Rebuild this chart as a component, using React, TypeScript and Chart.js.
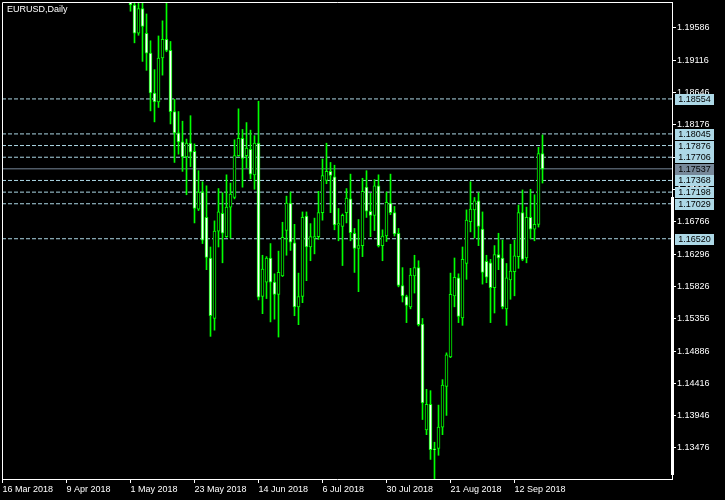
import React, { useEffect, useRef } from 'react';
import { Chart, registerables } from 'chart.js';

Chart.register(...registerables);

const symbolTitle = 'EURUSD,Daily';

const opens = [
  1.2305, 1.2288, 1.2335, 1.2240, 1.2340, 1.2300, 1.2351, 1.2450, 1.2405, 1.2310,
  1.2318, 1.2322, 1.2302, 1.2268, 1.2277, 1.2237, 1.2281, 1.2320, 1.2355, 1.2369,
  1.2326, 1.2330, 1.2382, 1.2372, 1.2375, 1.2345, 1.2288, 1.2211, 1.2234, 1.2166,
  1.2104, 1.2130, 1.2077, 1.1992, 1.1951, 1.1987, 1.1951, 1.1922, 1.1864, 1.1851,
  1.1915, 1.1942, 1.1926, 1.1837, 1.1806, 1.1793, 1.1771, 1.1791, 1.1779, 1.1695,
  1.1720, 1.1683, 1.1624, 1.1536, 1.1663, 1.1689, 1.1655, 1.1698, 1.1712, 1.1773,
  1.1798, 1.1773, 1.1782, 1.1745, 1.1791, 1.1568, 1.1589, 1.1624, 1.1589, 1.1571,
  1.1598, 1.1664, 1.1704, 1.1646, 1.1553, 1.1568, 1.1685, 1.1640, 1.1653, 1.1655,
  1.1690, 1.1737, 1.1750, 1.1742, 1.1672, 1.1670, 1.1690, 1.1710, 1.1660, 1.1638,
  1.1642, 1.1727, 1.1692, 1.1686, 1.1729, 1.1642, 1.1656, 1.1704, 1.1690, 1.1660,
  1.1584, 1.1568, 1.1553, 1.1598, 1.1610, 1.1528, 1.1374, 1.1411, 1.1346, 1.1347,
  1.1378, 1.1437, 1.1480, 1.1569, 1.1595, 1.1537, 1.1616, 1.1677, 1.1694, 1.1707,
  1.1666, 1.1619, 1.1617, 1.1581, 1.1629, 1.1624, 1.1550, 1.1592, 1.1604, 1.1626,
  1.1690, 1.1624, 1.1683, 1.1666, 1.1673, 1.1776,
];

const highs = [
  1.2336, 1.2355, 1.2344, 1.2350, 1.2389, 1.2370, 1.2476, 1.2476, 1.2413, 1.2336,
  1.2335, 1.2346, 1.2320, 1.2321, 1.2292, 1.2300, 1.2340, 1.2367, 1.2396, 1.2376,
  1.2345, 1.2396, 1.2414, 1.2395, 1.2396, 1.2354, 1.2292, 1.2255, 1.2240, 1.2207,
  1.2130, 1.2137, 1.2084, 1.2009, 1.2011, 1.1995, 1.1979, 1.1940, 1.1898, 1.1947,
  1.1969, 1.1995, 1.1939, 1.1855, 1.1837, 1.1823, 1.1797, 1.1831, 1.1790, 1.1751,
  1.1735, 1.1729, 1.1640, 1.1678, 1.1725, 1.1719, 1.1745, 1.1733, 1.1796, 1.1841,
  1.1811, 1.1821, 1.1810, 1.1802, 1.1852, 1.1628, 1.1626, 1.1645, 1.1601, 1.1634,
  1.1676, 1.1714, 1.1720, 1.1673, 1.1602, 1.1691, 1.1691, 1.1674, 1.1682, 1.1721,
  1.1768, 1.1791, 1.1763, 1.1759, 1.1696, 1.1688, 1.1725, 1.1746, 1.1667, 1.1680,
  1.1740, 1.1751, 1.1718, 1.1738, 1.1745, 1.1665, 1.1720, 1.1746, 1.1699, 1.1667,
  1.1610, 1.1570, 1.1609, 1.1628, 1.1620, 1.1536, 1.1433, 1.1431, 1.1356, 1.1410,
  1.1447, 1.1486, 1.1602, 1.1624, 1.1601, 1.1640, 1.1694, 1.1735, 1.1712, 1.1719,
  1.1691, 1.1628, 1.1622, 1.1642, 1.1660, 1.1650, 1.1616, 1.1644, 1.1650, 1.1701,
  1.1723, 1.1698, 1.1724, 1.1716, 1.1785, 1.1803,
];

const lows = [
  1.2260, 1.2262, 1.2240, 1.2238, 1.2286, 1.2285, 1.2340, 1.2386, 1.2307, 1.2281,
  1.2310, 1.2279, 1.2254, 1.2250, 1.2217, 1.2215, 1.2270, 1.2302, 1.2349, 1.2305,
  1.2301, 1.2315, 1.2361, 1.2347, 1.2343, 1.2268, 1.2183, 1.2193, 1.2160, 1.2096,
  1.2054, 1.2074, 1.1983, 1.1937, 1.1948, 1.1910, 1.1897, 1.1838, 1.1822, 1.1843,
  1.1890, 1.1924, 1.1819, 1.1763, 1.1775, 1.1750, 1.1716, 1.1757, 1.1675, 1.1693,
  1.1645, 1.1607, 1.1510, 1.1519, 1.1640, 1.1617, 1.1654, 1.1653, 1.1710, 1.1772,
  1.1727, 1.1755, 1.1739, 1.1724, 1.1563, 1.1543, 1.1565, 1.1531, 1.1535, 1.1509,
  1.1597, 1.1628, 1.1635, 1.1540, 1.1527, 1.1559, 1.1591, 1.1620, 1.1630, 1.1651,
  1.1679, 1.1732, 1.1690, 1.1665, 1.1649, 1.1613, 1.1675, 1.1649, 1.1603, 1.1575,
  1.1626, 1.1683, 1.1655, 1.1664, 1.1640, 1.1620, 1.1648, 1.1687, 1.1656, 1.1582,
  1.1560, 1.1530, 1.1550, 1.1573, 1.1525, 1.1389, 1.1367, 1.1331, 1.1301, 1.1337,
  1.1367, 1.1395, 1.1479, 1.1553, 1.1530, 1.1526, 1.1593, 1.1662, 1.1653, 1.1642,
  1.1586, 1.1588, 1.1530, 1.1544, 1.1607, 1.1550, 1.1526, 1.1564, 1.1569, 1.1609,
  1.1620, 1.1617, 1.1652, 1.1649, 1.1669, 1.1733,
];

const closes = [
  1.2288, 1.2335, 1.2240, 1.2340, 1.2300, 1.2351, 1.2450, 1.2405, 1.2310, 1.2318,
  1.2322, 1.2302, 1.2268, 1.2277, 1.2237, 1.2281, 1.2320, 1.2355, 1.2369, 1.2326,
  1.2330, 1.2382, 1.2372, 1.2375, 1.2345, 1.2288, 1.2211, 1.2234, 1.2166, 1.2104,
  1.2130, 1.2077, 1.1992, 1.1951, 1.1987, 1.1961, 1.1922, 1.1864, 1.1851, 1.1915,
  1.1942, 1.1926, 1.1837, 1.1806, 1.1793, 1.1771, 1.1791, 1.1778, 1.1696, 1.1720,
  1.1650, 1.1625, 1.1540, 1.1663, 1.1691, 1.1660, 1.1698, 1.1717, 1.1773, 1.1798,
  1.1769, 1.1784, 1.1746, 1.1791, 1.1567, 1.1608, 1.1624, 1.1589, 1.1571, 1.1603,
  1.1654, 1.1704, 1.1647, 1.1553, 1.1568, 1.1683, 1.1640, 1.1655, 1.1655, 1.1690,
  1.1744, 1.1750, 1.1744, 1.1672, 1.1674, 1.1686, 1.1711, 1.1661, 1.1638, 1.1642,
  1.1721, 1.1692, 1.1686, 1.1729, 1.1642, 1.1656, 1.1705, 1.1690, 1.1659, 1.1584,
  1.1569, 1.1555, 1.1599, 1.1610, 1.1527, 1.1413, 1.1411, 1.1345, 1.1345, 1.1378,
  1.1439, 1.1483, 1.1571, 1.1596, 1.1539, 1.1622, 1.1679, 1.1695, 1.1707, 1.1670,
  1.1603, 1.1596, 1.1581, 1.1629, 1.1624, 1.1553, 1.1595, 1.1605, 1.1627, 1.1690,
  1.1622, 1.1683, 1.1666, 1.1673, 1.1776, 1.17537,
];

const xTickIndex = [0, 16, 32, 48, 64, 80, 96, 112, 128];
const xTickLabels = [
  '16 Mar 2018', '9 Apr 2018', '1 May 2018', '23 May 2018', '14 Jun 2018',
  '6 Jul 2018', '30 Jul 2018', '21 Aug 2018', '12 Sep 2018',
];
const yTicks = [
  1.13476, 1.13946, 1.14416, 1.14886, 1.15356, 1.15826, 1.16296,
  1.16766, 1.17236, 1.17706, 1.18176, 1.18646, 1.19116, 1.19586,
];
const levelLines = [1.18554, 1.18045, 1.17876, 1.17706, 1.17368, 1.17198, 1.17029, 1.1652];
const bidLevel = 1.17537;

const xMin = -0.125;
const xMax = 167.375;
const yMin = 1.13025;
const yMax = 1.19964;

const FONT = '"Liberation Sans", Arial, sans-serif';
const GREEN = '#00ff00';
const LEVEL_BLUE = '#add8e6';
const BID_GRAY = '#778899';

const zeroPadding = (scale: any) => {
  scale.paddingTop = 0;
  scale.paddingBottom = 0;
  scale.paddingLeft = 0;
  scale.paddingRight = 0;
};

const decorPlugin = {
  id: 'mtDecor',
  beforeDraw(chart: any) {
    const ctx = chart.ctx;
    ctx.save();
    ctx.fillStyle = '#000000';
    ctx.fillRect(0, 0, chart.width, chart.height);
    ctx.restore();
  },
  afterDraw(chart: any) {
    const { ctx, chartArea: a } = chart;
    const ys = chart.scales.y;
    ctx.save();
    ctx.strokeStyle = '#ffffff';
    ctx.lineWidth = 1;
    ctx.beginPath();
    ctx.moveTo(a.left + 0.5, a.bottom);
    ctx.lineTo(a.left + 0.5, a.top + 0.5);
    ctx.lineTo(a.right + 1, a.top + 0.5);
    ctx.stroke();
    ctx.fillStyle = '#ffffff';
    ctx.fillRect(a.right - 1, 197, 3, 278);

    ctx.font = `9px ${FONT}`;
    ctx.textBaseline = 'top';
    ctx.textAlign = 'left';
    ctx.fillStyle = '#ffffff';
    ctx.fillText(symbolTitle, a.left + 5, a.top + 3);

    const boxes = [
      ...levelLines.map((v) => ({ v, bg: LEVEL_BLUE })),
      { v: bidLevel, bg: BID_GRAY },
    ];
    ctx.textBaseline = 'middle';
    ctx.textAlign = 'center';
    for (const b of boxes) {
      const py = Math.round(ys.getPixelForValue(b.v));
      ctx.fillStyle = b.bg;
      ctx.fillRect(a.right + 3, py - 5, 39, 11);
      ctx.fillStyle = '#000000';
      ctx.fillText(b.v.toFixed(5), a.right + 3 + 19.5, py + 0.5);
    }
    ctx.restore();
  },
};

export default function App() {
  const canvasRef = useRef<HTMLCanvasElement | null>(null);

  useEffect(() => {
    document.body.style.margin = '0';
    document.body.style.background = '#000';
    const canvas = canvasRef.current;
    if (!canvas) return;

    const idx = opens.map((_, i) => i);
    const bodyColors = idx.map((i) => (closes[i] < opens[i] ? '#ffffff' : '#000000'));

    const levelDatasets = levelLines.map((lv) => ({
      type: 'line' as const,
      data: [
        { x: xMin, y: lv },
        { x: xMax, y: lv },
      ],
      borderColor: LEVEL_BLUE,
      borderWidth: 1,
      borderDash: [4, 2],
      pointRadius: 0,
      fill: false,
      clip: 0,
      order: 3,
    }));

    const chart = new Chart(canvas, {
      type: 'bar',
      data: {
        datasets: [
          {
            type: 'bar',
            data: idx.map((i) => ({ x: i, y: [opens[i], closes[i]] })) as any,
            backgroundColor: bodyColors,
            borderColor: GREEN,
            borderWidth: 1,
            borderSkipped: false,
            grouped: false,
            barPercentage: 1,
            categoryPercentage: 1,
            maxBarThickness: 3,
            minBarLength: 1,
            clip: 0,
            order: 0,
          },
          {
            type: 'bar',
            data: idx.map((i) => ({ x: i, y: [lows[i], highs[i]] })) as any,
            backgroundColor: GREEN,
            borderWidth: 0,
            grouped: false,
            barPercentage: 1,
            categoryPercentage: 1,
            maxBarThickness: 1,
            clip: 0,
            order: 1,
          },
          ...levelDatasets,
          {
            type: 'line' as const,
            data: [
              { x: xMin, y: bidLevel },
              { x: xMax, y: bidLevel },
            ],
            borderColor: BID_GRAY,
            borderWidth: 1,
            pointRadius: 0,
            fill: false,
            clip: 0,
            order: 2,
          },
        ] as any,
      },
      options: {
        animation: false,
        responsive: false,
        maintainAspectRatio: false,
        devicePixelRatio: 1,
        events: [],
        layout: { padding: { left: 2, top: 2, right: 0, bottom: 0 } },
        plugins: {
          legend: { display: false },
          tooltip: { enabled: false },
          title: { display: false },
        },
        scales: {
          x: {
            type: 'linear',
            min: xMin,
            max: xMax,
            offset: false,
            position: 'bottom',
            grid: {
              display: true,
              offset: false,
              drawOnChartArea: false,
              drawTicks: true,
              tickLength: 4,
              color: '#ffffff',
            },
            border: { display: true, color: '#ffffff', width: 1 },
            afterBuildTicks: (scale: any) => {
              scale.ticks = xTickIndex.map((v) => ({ value: v }));
            },
            afterFit: (scale: any) => {
              scale.height = 21;
              zeroPadding(scale);
            },
            ticks: {
              autoSkip: false,
              maxRotation: 0,
              minRotation: 0,
              align: 'start',
              padding: 1,
              color: '#ffffff',
              font: { family: FONT, size: 9 },
              callback: (v: any) => {
                const k = xTickIndex.indexOf(Number(v));
                return k >= 0 ? xTickLabels[k] : '';
              },
            },
          },
          y: {
            type: 'linear',
            position: 'right',
            min: yMin,
            max: yMax,
            grid: {
              display: true,
              drawOnChartArea: false,
              drawTicks: true,
              tickLength: 4,
              color: '#ffffff',
            },
            border: { display: true, color: '#ffffff', width: 1 },
            afterBuildTicks: (scale: any) => {
              scale.ticks = yTicks.map((v) => ({ value: v }));
            },
            afterFit: (scale: any) => {
              scale.width = 53;
              zeroPadding(scale);
            },
            ticks: {
              autoSkip: false,
              padding: 1,
              color: '#ffffff',
              font: { family: FONT, size: 9 },
              callback: (v: any) => Number(v).toFixed(5),
            },
          },
        },
      } as any,
      plugins: [decorPlugin],
    });

    return () => chart.destroy();
  }, []);

  return (
    <div style={{ width: 725, height: 500, background: '#000', position: 'relative' }}>
      <canvas ref={canvasRef} width={725} height={500} style={{ display: 'block' }} />
    </div>
  );
}
